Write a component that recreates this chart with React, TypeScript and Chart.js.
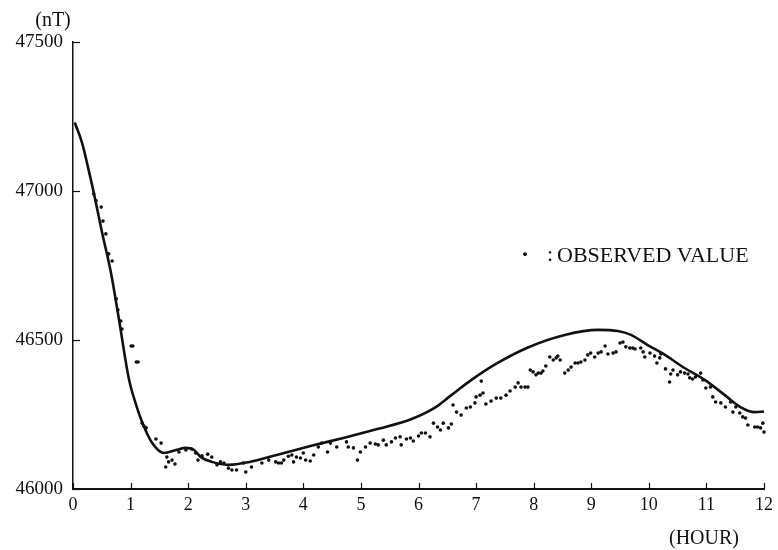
import React, { useEffect, useRef } from "react";
import { Chart, registerables } from "chart.js";

Chart.register(...registerables);

// Computed (model) curve: hour -> nT
const curveHours = [
  0.03, 0.16, 0.26, 0.36, 0.5, 0.66, 0.8, 0.97, 1.1, 1.2, 1.37, 1.58, 1.79, 1.96, 2.1, 2.22, 2.41, 2.7,
  3.05, 3.57, 4.14, 4.73, 5.3, 5.88, 6.3, 6.57, 6.92, 7.33, 7.9, 8.54, 9.12, 9.46, 9.69, 9.98,
  10.28, 10.62, 10.97, 11.32, 11.59, 11.84, 12.0,
];
const curveValues = [
  47230, 47160, 47080, 46995, 46865, 46725, 46567, 46370, 46280, 46225, 46156, 46121, 46131, 46138,
  46131, 46107, 46091, 46081, 46090, 46116, 46145, 46173, 46202, 46235, 46275, 46315, 46366,
  46418, 46475, 46517, 46534, 46530, 46517, 46483, 46450, 46406, 46366, 46315, 46275, 46258, 46260,
];

// Observed values: hour -> nT
const obsHours = [
  0.36, 0.4, 0.49, 0.52, 0.57, 0.62, 0.68, 0.75, 0.78, 0.83, 0.85, 1.01, 1.04, 1.1, 1.13, 1.2, 1.23,
  1.27, 1.44, 1.53, 1.61, 1.63, 1.66, 1.72, 1.77, 1.84, 1.96, 2.06, 2.13, 2.17, 2.24, 2.34, 2.41, 2.5,
  2.56, 2.62, 2.7, 2.76, 2.84, 2.96, 3.0, 3.1, 3.28, 3.4, 3.52, 3.57, 3.62, 3.66, 3.74, 3.8, 3.83,
  3.88, 3.95, 4.0, 4.04, 4.12, 4.18, 4.26, 4.32, 4.42, 4.47, 4.58, 4.75, 4.78, 4.87, 4.94, 4.99, 5.08,
  5.16, 5.25, 5.3, 5.39, 5.44, 5.53, 5.6, 5.68, 5.7, 5.79, 5.86, 5.91, 6.0, 6.05, 6.12, 6.2, 6.26,
  6.33, 6.38, 6.43, 6.52, 6.57, 6.6, 6.66, 6.74, 6.83, 6.9, 6.98, 7.0, 7.07, 7.09, 7.12, 7.17, 7.26,
  7.35, 7.43, 7.52, 7.59, 7.68, 7.73, 7.78, 7.85, 7.9, 7.94, 7.99, 8.04, 8.08, 8.13, 8.16, 8.21, 8.28,
  8.34, 8.39, 8.42, 8.46, 8.54, 8.6, 8.65, 8.72, 8.77, 8.82, 8.89, 8.94, 8.99, 9.06, 9.12, 9.17, 9.24,
  9.29, 9.38, 9.43, 9.5, 9.55, 9.6, 9.67, 9.72, 9.76, 9.86, 9.9, 9.93, 10.02, 10.1, 10.14, 10.19,
  10.21, 10.29, 10.36, 10.38, 10.42, 10.5, 10.55, 10.62, 10.68, 10.71, 10.76, 10.81, 10.9, 10.94,
  10.99, 11.07, 11.11, 11.16, 11.25, 11.33, 11.42, 11.46, 11.51, 11.58, 11.63, 11.68, 11.72, 11.84,
  11.89, 11.94, 11.98, 12.0,
];
const obsValues = [
  46990, 46967, 46946, 46899, 46856, 46789, 46765, 46638, 46601, 46564, 46537, 46480, 46480, 46426,
  46426, 46221, 46211, 46205, 46168, 46154, 46074, 46107, 46091, 46097, 46084, 46124, 46131, 46134,
  46121, 46097, 46111, 46117, 46107, 46081, 46091, 46087, 46070, 46064, 46064, 46087, 46057, 46074,
  46087, 46097, 46091, 46087, 46087, 46097, 46110, 46114, 46091, 46107, 46104, 46121, 46097, 46094,
  46114, 46141, 46154, 46124, 46154, 46141, 46158, 46141, 46138, 46097, 46124, 46141, 46154, 46151,
  46148, 46164, 46148, 46158, 46171, 46175, 46148, 46168, 46171, 46161, 46178, 46188, 46188, 46175,
  46221, 46208, 46198, 46221, 46205, 46218, 46282, 46258, 46248, 46272, 46275, 46289, 46309, 46315,
  46362, 46322, 46285, 46295, 46305, 46305, 46315, 46329, 46342, 46356, 46342, 46342, 46342, 46399,
  46393, 46383, 46389, 46389, 46396, 46413, 46443, 46433, 46440, 46446, 46433, 46389, 46399, 46409,
  46423, 46423, 46426, 46433, 46450, 46456, 46443, 46456, 46460, 46480, 46453, 46456, 46460, 46490,
  46493, 46477, 46473, 46473, 46470, 46473, 46460, 46443, 46456, 46446, 46423, 46440, 46453, 46403,
  46359, 46386, 46399, 46383, 46393, 46389, 46386, 46373, 46369, 46376, 46389, 46366, 46339, 46342,
  46309, 46292, 46289, 46275, 46292, 46258, 46275, 46255, 46242, 46238, 46215, 46208, 46208, 46205,
  46221, 46191,
];

const xTicks = [0, 1, 2, 3, 4, 5, 6, 7, 8, 9, 10, 11, 12];
const yTicks = [46000, 46500, 47000, 47500];
const yUnit = "(nT)";
const xUnit = "(HOUR)";
const legendMark = "·";
const legendColon = ":";
const legendLabel = "OBSERVED VALUE";

const FONT = "'Liberation Serif', 'Times New Roman', serif";
const INK = "#111";

export default function App() {
  const ref = useRef<HTMLCanvasElement | null>(null);

  useEffect(() => {
    const canvas = ref.current;
    if (!canvas) return;

    const annot = {
      id: "annot",
      afterDraw(chart: any) {
        const { ctx, chartArea, scales } = chart;
        ctx.save();
        ctx.strokeStyle = INK;
        ctx.lineWidth = 1.2;
        // inward tick marks
        for (const t of xTicks) {
          const px = Math.round(scales.x.getPixelForValue(t)) + 0.5;
          ctx.beginPath();
          ctx.moveTo(px, chartArea.bottom);
          ctx.lineTo(px, chartArea.bottom - 6);
          ctx.stroke();
        }
        for (const t of yTicks) {
          const py = Math.round(scales.y.getPixelForValue(t)) + 0.5;
          ctx.beginPath();
          ctx.moveTo(chartArea.left, py);
          ctx.lineTo(chartArea.left + 7, py);
          ctx.stroke();
        }
        ctx.fillStyle = INK;
        ctx.textBaseline = "middle";
        // axis units
        ctx.font = `20px ${FONT}`;
        ctx.textAlign = "center";
        ctx.fillText(yUnit, 53, 21);
        ctx.fillText(xUnit, 704, 539);
        // legend
        ctx.font = `bold 24px ${FONT}`;
        ctx.textAlign = "center";
        ctx.fillText(legendMark, 525, 256);
        ctx.font = `22px ${FONT}`;
        ctx.fillText(legendColon, 550, 255);
        ctx.textAlign = "left";
        ctx.fillText(legendLabel, 557, 256);
        ctx.restore();
      },
    };

    const chart = new Chart(canvas, {
      type: "scatter",
      data: {
        datasets: [
          {
            label: "computed",
            type: "line",
            data: curveHours.map((h, i) => ({ x: h, y: curveValues[i] })),
            borderColor: INK,
            borderWidth: 2.6,
            pointRadius: 0,
            showLine: true,
            fill: false,
            cubicInterpolationMode: "monotone",
          } as any,
          {
            label: legendLabel,
            data: obsHours.map((h, i) => ({ x: h, y: obsValues[i] })),
            backgroundColor: INK,
            borderColor: INK,
            borderWidth: 0,
            pointRadius: 1.8,
            clip: 5,
          } as any,
        ],
      },
      options: {
        responsive: false,
        animation: false,
        devicePixelRatio: 1,
        layout: { padding: { top: 42, right: 11, left: 0, bottom: 0 } },
        plugins: { legend: { display: false }, tooltip: { enabled: false } },
        scales: {
          x: {
            type: "linear",
            min: 0,
            max: 12,
            afterFit: (s: any) => {
              s.height = 61;
            },
            afterBuildTicks: (s: any) => {
              s.ticks = xTicks.map((v) => ({ value: v }));
            },
            grid: { display: false, drawTicks: false },
            border: { display: true, color: INK, width: 2 },
            ticks: {
              autoSkip: false,
              maxRotation: 0,
              padding: 5,
              color: INK,
              font: { family: FONT, size: 18 },
              callback: (v: any) => String(v),
            },
          },
          y: {
            type: "linear",
            min: 46000,
            max: 47500,
            afterFit: (s: any) => {
              s.width = 73;
            },
            afterBuildTicks: (s: any) => {
              s.ticks = yTicks.map((v) => ({ value: v }));
            },
            grid: { display: false, drawTicks: false },
            border: { display: true, color: INK, width: 1.5 },
            ticks: {
              autoSkip: false,
              padding: 10,
              color: INK,
              font: { family: FONT, size: 19 },
              callback: (v: any) => String(v),
            },
          },
        },
      } as any,
      plugins: [annot],
    });

    return () => {
      chart.destroy();
    };
  }, []);

  return (
    <div style={{ position: "absolute", left: 0, top: 0, width: 778, height: 550, background: "#fff" }}>
      <canvas ref={ref} width={778} height={550} style={{ display: "block" }} />
    </div>
  );
}
